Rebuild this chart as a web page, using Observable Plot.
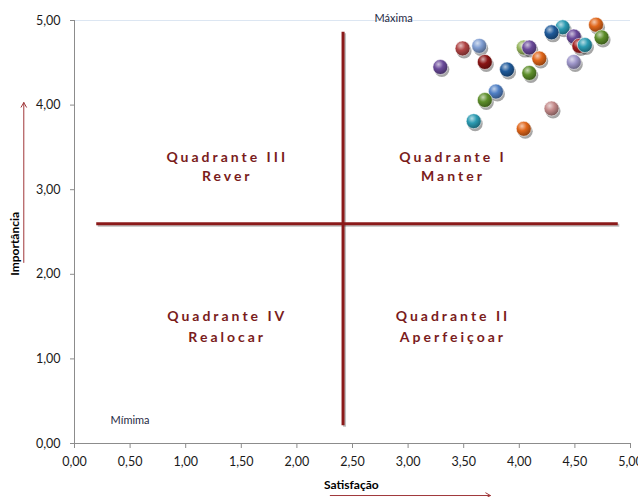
<!DOCTYPE html>
<html><head><meta charset="utf-8">
<script src="https://cdn.jsdelivr.net/npm/d3@7"></script>
<script src="https://cdn.jsdelivr.net/npm/@observablehq/plot@0.6"></script>
<style>
body{margin:0;background:#fff;}
</style></head><body><div id="chart"></div>
<script>
// Data
const satisfacao = [4.69,4.74,4.39,4.29,4.49,4.54,4.59,3.49,3.64,4.04,4.09,4.18,3.69,3.29,3.89,4.09,4.49,3.79,3.69,4.29,3.59,4.04];
const importancia = [4.95,4.80,4.92,4.86,4.81,4.70,4.71,4.67,4.70,4.68,4.68,4.55,4.51,4.45,4.42,4.38,4.51,4.16,4.06,3.96,3.81,3.72];
const cores = ["orange","green","teal","blue","purple","red","teal","brick","lightblue","lightgreen","purple","orange","darkred","purple","blue","green","lavender","blue2","green","pink","teal","orange"];
const xTicks = [0,0.5,1,1.5,2,2.5,3,3.5,4,4.5,5];
const yTicks = [0,1,2,3,4,5];
const quadX = [1.36,3.39,1.36,3.39];
const quadY1 = [3.38,3.38,1.50,1.50];
const quadY2 = [3.16,3.16,1.25,1.25];
const quadNome = ["Quadrante III","Quadrante I","Quadrante IV","Quadrante II"];
const quadAcao = ["Rever","Manter","Realocar","Aperfeiçoar"];
const linhaV = [{x:2.415, y1:0.21, y2:4.86}];
const linhaH = [{y:2.597, x1:0.2, x2:4.89}];
const extremos = [{x:2.87, y:5.02, t:"Máxima"}, {x:0.5, y:0.27, t:"Mímima"}];
const setaX = [{x1:2.30, x2:3.74, y:-0.615}];
const setaY = [{x:-0.456, y1:2.14, y2:4.03}];

const palette = {orange:"#e0661a", green:"#5d8e2a", teal:"#2b9bb2", blue:"#1f5a9a", purple:"#6a4a9a", red:"#a01c1c",
  brick:"#b04444", lightblue:"#7f9dd2", lightgreen:"#95b45c", darkred:"#8a1414", lavender:"#9d95c9", blue2:"#4f7fc4", pink:"#c48a8a"};

const fmt = d => d3.format(".2f")(d).replace(".", ",");
const pts = satisfacao.map((x,i) => ({x, y: importancia[i], id: cores[i]}));
const quads = [];
quadX.forEach((x,i) => { quads.push({x, y: quadY1[i], t: quadNome[i]}); quads.push({x, y: quadY2[i], t: quadAcao[i]}); });

const defsMark = () => {
  const g = d3.create("svg:g");
  const defs = g.append("defs");
  for (const [k,c] of Object.entries(palette)) {
    const gr = defs.append("radialGradient").attr("id","g-"+k).attr("cx","38%").attr("cy","32%").attr("r","70%");
    gr.append("stop").attr("offset","0%").attr("stop-color", d3.interpolateRgb(c,"#fff")(0.65));
    gr.append("stop").attr("offset","45%").attr("stop-color", c);
    gr.append("stop").attr("offset","100%").attr("stop-color", d3.color(c).darker(1.3).formatHex());
  }
  const f = defs.append("filter").attr("id","blur").attr("x","-50%").attr("y","-50%").attr("width","200%").attr("height","200%");
  f.append("feGaussianBlur").attr("stdDeviation", 1.5);
  return g.node();
};

const lineColor = "#8b1a1a";
const plot = Plot.plot({
  width: 638, height: 497,
  marginLeft: 74, marginRight: 8, marginTop: 20, marginBottom: 54,
  x: {domain: [0,5]}, y: {domain: [0,5]},
  color: {type: "identity"},
  style: {fontFamily: "Lato, 'Open Sans', sans-serif", background: "#fff", color: "#1a1a1a"},
  marks: [
    defsMark,
    Plot.ruleY([5], {stroke: "#dce6f2"}),
    Plot.axisX({ticks: xTicks, tickFormat: fmt, tickSize: 5, tickPadding: 9, stroke: "#8c8c8c", fill: "#1a1a1a", fontSize: 12.5, label: null}),
    Plot.axisY({ticks: yTicks, tickFormat: fmt, tickSize: 4, tickPadding: 10, stroke: "#8c8c8c", fill: "#1a1a1a", fontSize: 12.5, label: null}),
    Plot.ruleX([0], {stroke: "#8c8c8c"}),
    Plot.ruleY([0], {stroke: "#8c8c8c"}),
    // quadrant line shadows
    Plot.ruleX(linhaV, {x: "x", y1: "y1", y2: "y2", stroke: "#000", strokeOpacity: 0.25, strokeWidth: 3, dx: 1.5, dy: 1.5, ariaLabel: "shadow"}),
    Plot.ruleY(linhaH, {y: "y", x1: "x1", x2: "x2", stroke: "#000", strokeOpacity: 0.25, strokeWidth: 3, dx: 1.5, dy: 1.5, ariaLabel: "shadow"}),
    Plot.ruleX(linhaV, {x: "x", y1: "y1", y2: "y2", stroke: lineColor, strokeWidth: 3}),
    Plot.ruleY(linhaH, {y: "y", x1: "x1", x2: "x2", stroke: lineColor, strokeWidth: 3}),
    Plot.text(quads, {x: "x", y: "y", text: "t", fill: "#7a1c1c", fontSize: 14, fontWeight: "bold", dx: 1.5, ariaLabel: "quad"}),
    Plot.text(extremos, {x: "x", y: "y", text: "t", fill: "#1f2a44", fontSize: 11}),
    Plot.text(["Satisfação"], {x: 2.49, y: -0.49, text: d => d, fontSize: 12, fontWeight: "bold", fill: "#000"}),
    Plot.text(["Importância"], {x: -0.53, y: 2.36, text: d => d, fontSize: 12, fontWeight: "bold", fill: "#000", rotate: -90}),
    Plot.arrow(setaX, {x1: "x1", x2: "x2", y1: "y", y2: "y", stroke: "#a0373a", strokeWidth: 1, headLength: 8}),
    Plot.arrow(setaY, {x1: "x", x2: "x", y1: "y1", y2: "y2", stroke: "#a0373a", strokeWidth: 1, headLength: 8}),
    Plot.dot(pts, {x: "x", y: "y", r: 7.5, fill: "#000", fillOpacity: 0.35, dx: 1.5, dy: 2.5, ariaLabel: "shadow"}),
    Plot.dot(pts, {x: "x", y: "y", r: 7.5, fill: d => `url(#g-${d.id})`, stroke: "#fff", strokeOpacity: 0.7, strokeWidth: 0.8})
  ]
});
d3.select(plot).selectAll('g[aria-label="shadow"]').attr("filter", "url(#blur)");
const quadTexts = new Set([...quadNome, ...quadAcao]);
d3.select(plot).selectAll("text").filter(function() { return quadTexts.has(this.textContent); })
  .style("letter-spacing", "3px");
document.getElementById("chart").appendChild(plot);
</script></body></html>
